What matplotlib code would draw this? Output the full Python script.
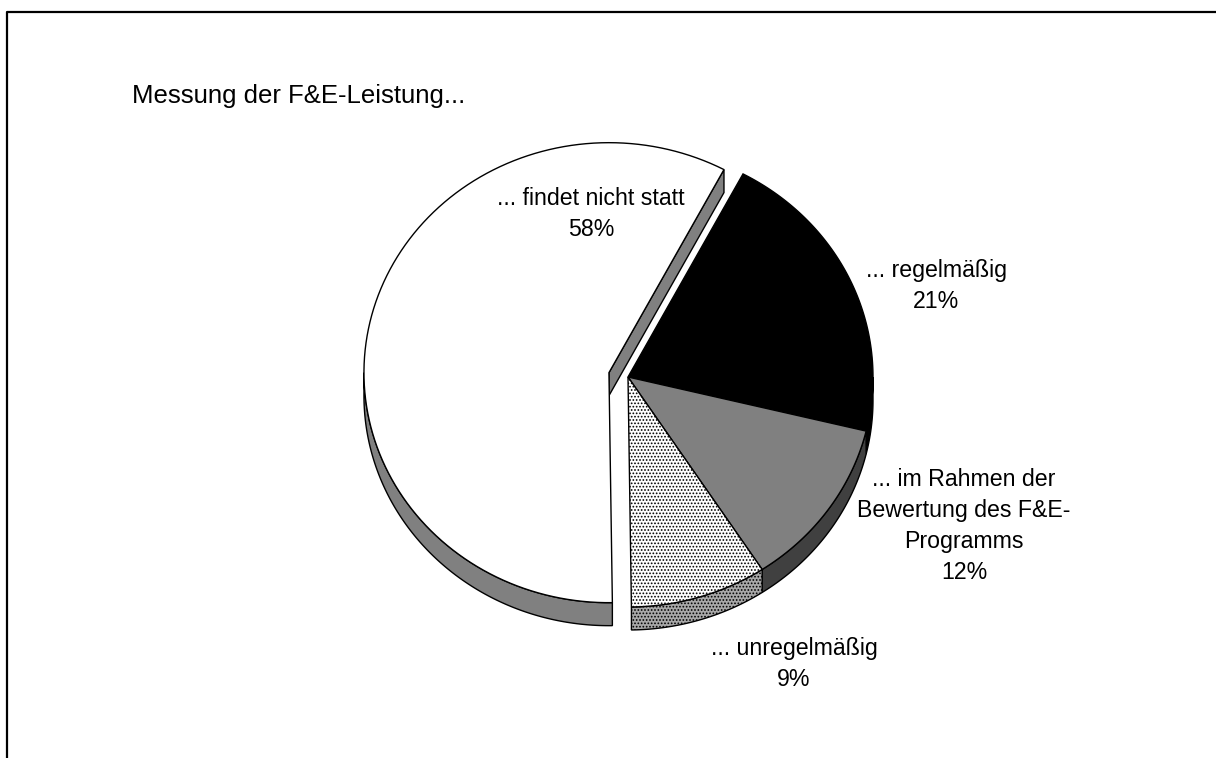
import numpy as np
import matplotlib.pyplot as plt
from matplotlib.patches import Polygon

plt.rcParams["font.family"] = ["Liberation Sans", "DejaVu Sans"]
plt.rcParams["hatch.linewidth"] = 0.8
plt.rcParams["hatch.color"] = "black"

# Daten: Messung der F&E-Leistung (Anteile in %)
labels = ["... regelmäßig", "... im Rahmen der\nBewertung des F&E-\nProgramms",
          "... unregelmäßig", "... findet nicht statt"]
shares = [21, 12, 9, 58]
exploded = [False, False, False, True]

# Darstellung der Segmente
top_colors = ["black", "#808080", "white", "white"]
side_colors = ["black", "#404040", "#a8a8a8", "#808080"]
hatches = [None, None, ".....", None]
# Beschriftung: Mitte x, Grundlinie der ersten Zeile
label_pos = [(936, 277), (964, 486), (794, 655), (591, 205)]
LINE_STEP = 31

# Geometrie der 3D-Torte (Bildpunkte, y nach unten)
CX, CY = 628, 377
RX, RY = 245, 230
DEPTH = 23
START = 62.0
EXPLODE = 0.08


def arc(cx, cy, a0, a1, n=120, dy=0.0):
    t = np.radians(np.linspace(a0, a1, n))
    return np.column_stack([cx + RX * np.cos(t), cy - RY * np.sin(t) + dy])


fig = plt.figure(figsize=(12.16, 7.58), dpi=100)
ax = fig.add_axes([0, 0, 1, 1])
ax.set_xlim(0, 1216)
ax.set_ylim(758, 0)
ax.axis("off")

# Rahmen oben und links
ax.plot([7, 7, 1216], [758, 12, 12], color="black", lw=1.6, solid_capstyle="butt")

ax.text(132, 103, "Messung der F&E-Leistung...", fontsize=18.5, va="baseline", ha="left")

total = float(sum(shares))
angles = []
a = START
for s in shares:
    span = 360.0 * s / total
    angles.append((a - span, a))  # gegen den Uhrzeigersinn: lo .. hi
    a -= span

centers = []
for (lo, hi), ex in zip(angles, exploded):
    if ex:
        mid = np.radians((lo + hi) / 2)
        centers.append((CX + EXPLODE * RX * np.cos(mid), CY - EXPLODE * RY * np.sin(mid)))
    else:
        centers.append((CX, CY))

# Mantelflächen (nur vordere Hälfte sichtbar)
for (lo, hi), (cx, cy), sc, h in zip(angles, centers, side_colors, hatches):
    lo_n, hi_n = lo % 360, (lo % 360) + (hi - lo)
    for base in (0, 360):
        f0 = max(lo_n, 180 + base)
        f1 = min(hi_n, 360 + base)
        if f1 > f0:
            top = arc(cx, cy, f0, f1)
            bot = arc(cx, cy, f0, f1, dy=DEPTH)[::-1]
            ax.add_patch(Polygon(np.vstack([top, bot]), closed=True, facecolor=sc,
                                 edgecolor="black", lw=1.0, hatch=h, zorder=2))

# Schnittfläche des herausgezogenen Segments
for (lo, hi), (cx, cy), ex, sc in zip(angles, centers, exploded, side_colors):
    if ex:
        t = np.radians(lo)
        ex_pt = (cx + RX * np.cos(t), cy - RY * np.sin(t))
        face = [(cx, cy), ex_pt, (ex_pt[0], ex_pt[1] + DEPTH), (cx, cy + DEPTH)]
        ax.add_patch(Polygon(face, closed=True, facecolor=sc, edgecolor="black",
                             lw=1.0, zorder=3))

# Deckflächen
for (lo, hi), (cx, cy), tc, h in zip(angles, centers, top_colors, hatches):
    pts = np.vstack([[cx, cy], arc(cx, cy, lo, hi)])
    ax.add_patch(Polygon(pts, closed=True, facecolor=tc, edgecolor="black",
                         lw=1.0, hatch=h, zorder=4))

for lab, s, (lx, ly) in zip(labels, shares, label_pos):
    lines = lab.split("\n") + [f"{s}%"]
    for i, line in enumerate(lines):
        ax.text(lx, ly + i * LINE_STEP, line, fontsize=16.7, ha="center",
                va="baseline", zorder=5)

fig.savefig("out.png", dpi=100, facecolor="white")
